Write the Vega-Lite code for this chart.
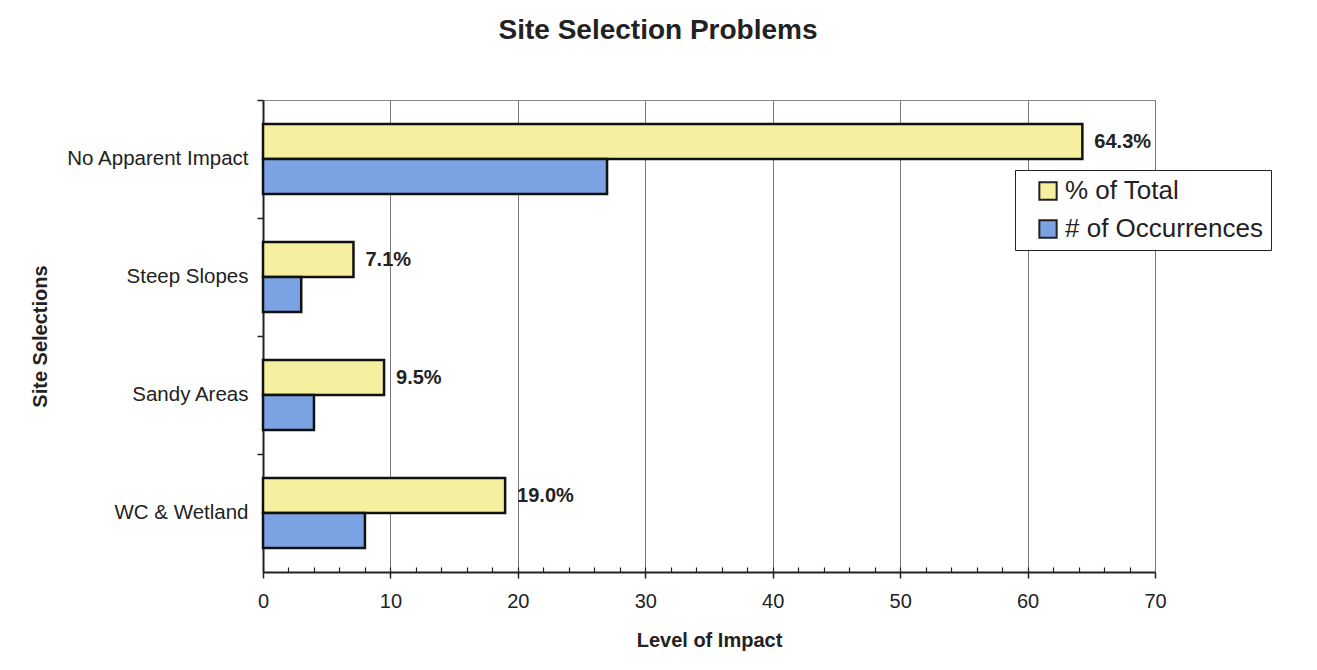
{
  "$schema": "https://vega.github.io/schema/vega-lite/v6.json",
  "width": 892,
  "height": 472,
  "autosize": {"type": "none"},
  "padding": {"left": 263, "top": 100, "right": 162, "bottom": 98},
  "background": "white",
  "title": {
    "text": "Site Selection Problems",
    "font": "Liberation Sans",
    "fontSize": 28,
    "fontWeight": "bold",
    "color": "#222",
    "anchor": "middle",
    "frame": "group",
    "dx": -51,
    "offset": 54
  },
  "config": {
    "view": {"stroke": "#888", "strokeWidth": 1},
    "font": "Liberation Sans"
  },
  "resolve": {"axis": {"x": "independent"}},
  "data": {
    "values": [
      {"category": "No Apparent Impact", "series": "% of Total", "value": 64.3, "label": "64.3%"},
      {"category": "No Apparent Impact", "series": "# of Occurrences", "value": 27, "label": ""},
      {"category": "Steep Slopes", "series": "% of Total", "value": 7.1, "label": "7.1%"},
      {"category": "Steep Slopes", "series": "# of Occurrences", "value": 3, "label": ""},
      {"category": "Sandy Areas", "series": "% of Total", "value": 9.5, "label": "9.5%"},
      {"category": "Sandy Areas", "series": "# of Occurrences", "value": 4, "label": ""},
      {"category": "WC & Wetland", "series": "% of Total", "value": 19.0, "label": "19.0%"},
      {"category": "WC & Wetland", "series": "# of Occurrences", "value": 8, "label": ""}
    ]
  },
  "encoding": {
    "y": {
      "field": "category",
      "type": "nominal",
      "sort": ["No Apparent Impact", "Steep Slopes", "Sandy Areas", "WC & Wetland"],
      "scale": {"paddingInner": 0, "paddingOuter": 0},
      "axis": {
        "title": "Site Selections",
        "titleFont": "Liberation Sans",
        "titleFontSize": 20,
        "titleFontWeight": "bold",
        "titleColor": "#222",
        "titleX": -223,
        "titleY": 236,
        "titleAngle": -90,
        "titleAlign": "center",
        "titleBaseline": "middle",
        "labelFont": "Liberation Sans",
        "labelFontSize": 20.5,
        "labelColor": "#222",
        "labelPadding": 9,
        "labelLimit": 300,
        "tickSize": 6,
        "tickColor": "#222",
        "tickWidth": 1.5,
        "bandPosition": 0,
        "domainColor": "#222",
        "domainWidth": 2,
        "grid": false
      }
    },
    "yOffset": {
      "field": "series",
      "type": "nominal",
      "sort": ["% of Total", "# of Occurrences"],
      "scale": {"paddingInner": 0, "paddingOuter": 0.69}
    }
  },
  "layer": [
    {
      "mark": {"type": "bar", "stroke": "#111", "strokeWidth": 2.5},
      "encoding": {
        "x": {
          "field": "value",
          "type": "quantitative",
          "scale": {"domain": [0, 70], "nice": false},
          "axis": {
            "title": "Level of Impact",
            "titleFont": "Liberation Sans",
            "titleFontSize": 20,
            "titleFontWeight": "bold",
            "titleColor": "#222",
            "titleY": 68,
            "titleBaseline": "middle",
            "values": [0, 10, 20, 30, 40, 50, 60, 70],
            "labelFlush": false,
            "labelFont": "Liberation Sans",
            "labelFontSize": 20,
            "labelColor": "#222",
            "labelPadding": 13,
            "tickSize": 6,
            "tickColor": "#222",
            "tickWidth": 1.5,
            "domainColor": "#222",
            "domainWidth": 2,
            "grid": true,
            "gridColor": "#777",
            "gridWidth": 1
          }
        },
        "color": {
          "field": "series",
          "type": "nominal",
          "sort": ["% of Total", "# of Occurrences"],
          "scale": {"domain": ["% of Total", "# of Occurrences"], "range": ["#f5efa0", "#7ba2e2"]},
          "legend": {
            "title": null,
            "orient": "none",
            "legendX": 752,
            "legendY": 70,
            "fillColor": "white",
            "strokeColor": "#222",
            "padding": 8,
            "labelFont": "Liberation Sans",
            "labelFontSize": 26,
            "labelColor": "#222",
            "labelLimit": 400,
            "symbolType": "square",
            "symbolSize": 300,
            "symbolStrokeColor": "#222",
            "symbolStrokeWidth": 2,
            "symbolOffset": 12,
            "labelOffset": 4,
            "rowPadding": 12
          }
        }
      }
    },
    {
      "mark": {"type": "text", "align": "left", "baseline": "middle", "dx": 12, "fontSize": 20, "fontWeight": "bold", "color": "#222", "font": "Liberation Sans"},
      "encoding": {
        "text": {"field": "label"},
        "x": {
          "field": "value",
          "type": "quantitative",
          "axis": {
            "orient": "top",
            "offset": -472,
            "values": [2, 4, 6, 8, 10, 12, 14, 16, 18, 20, 22, 24, 26, 28, 30, 32, 34, 36, 38, 40, 42, 44, 46, 48, 50, 52, 54, 56, 58, 60, 62, 64, 66, 68],
            "labels": false,
            "domain": false,
            "grid": false,
            "title": null,
            "tickSize": 5,
            "tickColor": "#222",
            "tickWidth": 1.2
          }
        }
      }
    }
  ]
}
